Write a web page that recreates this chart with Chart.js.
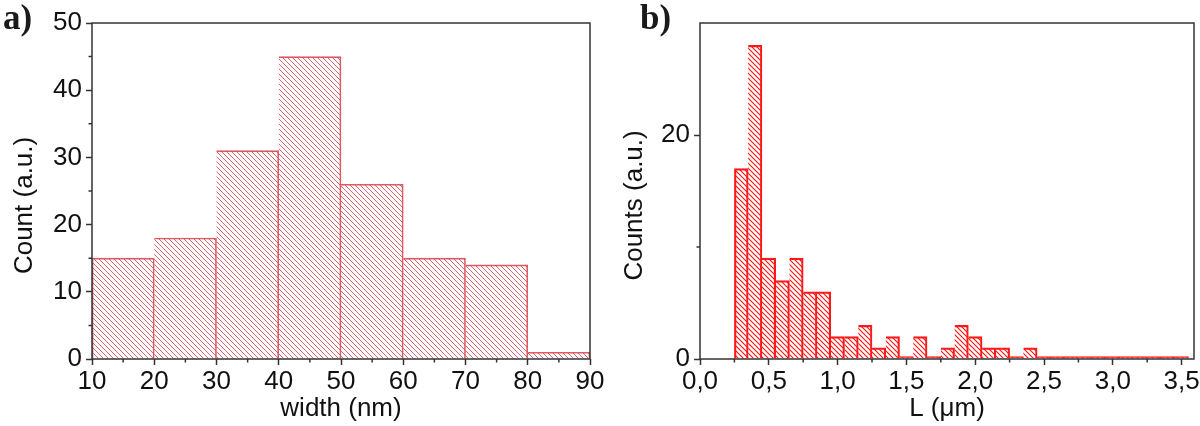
<!DOCTYPE html>
<html lang="en">
<head>
    <meta charset="UTF-8">
    <title>Width and length histograms</title>
    <script src="https://cdn.jsdelivr.net/npm/chart.js"></script>
    <style>
        body {
            margin: 0;
            background: #fff;
            width: 1200px;
            height: 426px;
            overflow: hidden;
            position: relative;
            font-family: 'Liberation Sans', Arial, sans-serif;
        }

        .panel {
            position: absolute;
            top: 0;
            height: 426px;
        }

        #panelA { left: 0; width: 610px; }
        #panelB { left: 600px; width: 600px; }

        .tag {
            position: absolute;
            top: 0;
            font-family: 'Liberation Serif', 'Times New Roman', serif;
            font-weight: bold;
            font-size: 35px;
            line-height: 1;
            color: #1a1a1a;
        }
    </style>
</head>
<body>
    <div id="panelA" class="panel"><canvas id="widthChart"></canvas></div>
    <div id="panelB" class="panel"><canvas id="lengthChart"></canvas></div>
    <div class="tag" style="left: 3px;">a)</div>
    <div class="tag" style="left: 640px;">b)</div>

    <script>
        // panel a) - nanowire width histogram (bin centres, 10 nm bins)
        const widthCenters = [15, 25, 35, 45, 55, 65, 75, 85];
        const widthCounts = [15, 18, 31, 45, 26, 15, 14, 1];
        const widthTicks = [10, 20, 30, 40, 50, 60, 70, 80, 90];
        const widthMinor = [15, 25, 35, 45, 55, 65, 75, 85];
        const countTicks = [0, 10, 20, 30, 40, 50];
        const countMinor = [5, 15, 25, 35, 45];

        // panel b) - length histogram (bin centres, 0.1 um bins)
        const lengthCenters = [0.3, 0.4, 0.5, 0.6, 0.7, 0.8, 0.9, 1.0, 1.1, 1.2, 1.3,
                               1.4, 1.5, 1.6, 1.7, 1.8, 1.9, 2.0, 2.1, 2.2, 2.3, 2.4,
                               2.5, 2.6, 2.7, 2.8, 2.9, 3.0, 3.1, 3.2, 3.3, 3.4, 3.5];
        const lengthCounts = [17, 28, 9, 7, 9, 6, 6, 2, 2, 3, 1,
                              2, 0, 2, 0, 1, 3, 2, 1, 1, 0, 1,
                              0, 0, 0, 0, 0, 0, 0, 0, 0, 0, 0];
        const lengthTicks = [0, 0.5, 1.0, 1.5, 2.0, 2.5, 3.0, 3.5];
        const lengthMinor = [0.25, 0.75, 1.25, 1.75, 2.25, 2.75, 3.25];
        const countsTicks = [0, 20];
        const countsMinor = [10];

        const AXIS_COLOR = '#333';
        const FONT = "'Liberation Sans', Arial, sans-serif";
        const FONT_SIZE = 26;
        // trailing no-break spaces push the centred y title a bit down, like the original
        const TITLE_SHIFT = '\u00a0\u00a0\u00a0\u00a0';

        // diagonal "\" hatch used as bar fill
        function makeHatch(color, gap, lw) {
            const c = document.createElement('canvas');
            c.width = gap;
            c.height = gap;
            const g = c.getContext('2d');
            g.strokeStyle = color;
            g.lineWidth = lw;
            g.beginPath();
            g.moveTo(-1, -1); g.lineTo(gap + 1, gap + 1);
            g.moveTo(-1, gap - 1); g.lineTo(1, gap + 1);
            g.moveTo(gap - 1, -1); g.lineTo(gap + 1, 1);
            g.stroke();
            return g.createPattern(c, 'repeat');
        }

        // box around the plot area + short minor ticks
        const framePlugin = {
            id: 'frame',
            afterDatasetsDraw(chart) {
                const { ctx, chartArea: a } = chart;
                ctx.save();
                ctx.strokeStyle = AXIS_COLOR;
                ctx.lineWidth = 1.5;
                ctx.strokeRect(a.left, a.top, a.right - a.left, a.bottom - a.top);
                ctx.restore();
            },
            afterDraw(chart, args, opts) {
                const { ctx, chartArea: a, scales } = chart;
                ctx.save();
                ctx.strokeStyle = AXIS_COLOR;
                ctx.lineWidth = 1.5;
                ctx.beginPath();
                (opts.x || []).forEach(v => {
                    const px = scales.x.getPixelForValue(v);
                    ctx.moveTo(px, a.bottom);
                    ctx.lineTo(px, a.bottom + 3.5);
                });
                (opts.y || []).forEach(v => {
                    const py = scales.y.getPixelForValue(v);
                    ctx.moveTo(a.left, py);
                    ctx.lineTo(a.left - 3.5, py);
                });
                ctx.stroke();
                ctx.restore();
            }
        };

        function axisGrid() {
            return {
                display: true,
                drawOnChartArea: false,
                drawTicks: true,
                tickLength: 6,
                tickWidth: 1.5,
                tickColor: AXIS_COLOR,
                offset: false
            };
        }

        function buildChart(canvasId, cfg) {
            const borderW = cfg.borderWidth;
            return new Chart(document.getElementById(canvasId), {
                type: 'bar',
                data: {
                    datasets: [{
                        data: cfg.centers.map((x, i) => ({ x: x, y: cfg.counts[i] })),
                        backgroundColor: cfg.hatch,
                        borderColor: cfg.lineColor,
                        // neighbouring bars share one edge
                        borderWidth: (c) => ({ top: borderW, right: borderW, bottom: 0, left: c.dataIndex === 0 ? borderW : 0 }),
                        borderSkipped: false,
                        barPercentage: 1,
                        categoryPercentage: 1,
                        minBarLength: cfg.minBar || 0
                    }]
                },
                options: {
                    responsive: true,
                    maintainAspectRatio: false,
                    animation: false,
                    layout: { padding: { top: 23, right: cfg.padRight, bottom: 0, left: 0 } },
                    plugins: {
                        legend: { display: false },
                        tooltip: { enabled: false },
                        frame: { x: cfg.xMinor, y: cfg.yMinor }
                    },
                    scales: {
                        x: {
                            type: 'linear',
                            offset: false,
                            min: cfg.xMin,
                            max: cfg.xMax,
                            afterBuildTicks: (s) => { s.ticks = cfg.xTicks.map(v => ({ value: v })); },
                            afterFit: (s) => {
                                s.height = 67;
                                // the end labels fit on the canvas, no extra room needed
                                s.paddingLeft = 0;
                                s.paddingRight = 0;
                            },
                            grid: axisGrid(),
                            border: { display: false },
                            ticks: {
                                padding: 1,
                                maxRotation: 0,
                                autoSkip: false,
                                color: '#111',
                                font: { family: FONT, size: FONT_SIZE },
                                callback: cfg.xFormat
                            },
                            title: {
                                display: true,
                                text: cfg.xTitle,
                                color: '#111',
                                font: { family: FONT, size: FONT_SIZE },
                                padding: { top: 0, bottom: 2 }
                            }
                        },
                        y: {
                            min: 0,
                            max: cfg.yMax,
                            afterBuildTicks: (s) => { s.ticks = cfg.yTicks.map(v => ({ value: v })); },
                            afterFit: (s) => { s.width = cfg.yWidth; },
                            grid: axisGrid(),
                            border: { display: false },
                            ticks: {
                                padding: 4,
                                color: '#111',
                                font: { family: FONT, size: FONT_SIZE }
                            },
                            title: {
                                display: true,
                                text: cfg.yTitle + TITLE_SHIFT,
                                color: '#111',
                                font: { family: FONT, size: FONT_SIZE },
                                padding: { top: cfg.yTitlePad, bottom: 0 }
                            }
                        }
                    }
                },
                plugins: [framePlugin]
            });
        }

        buildChart('widthChart', {
            centers: widthCenters,
            counts: widthCounts,
            hatch: makeHatch('rgba(214, 62, 74, 0.9)', 5, 0.9),
            lineColor: '#e05a62',
            borderWidth: 1,
            xMin: 10, xMax: 90,
            xTicks: widthTicks, xMinor: widthMinor,
            yMax: 50,
            yTicks: countTicks, yMinor: countMinor,
            xTitle: 'width (nm)',
            yTitle: 'Count (a.u.)',
            yTitlePad: 9,
            yWidth: 92,
            padRight: 20,
            xFormat: (v) => String(v)
        });

        buildChart('lengthChart', {
            centers: lengthCenters,
            counts: lengthCounts,
            hatch: makeHatch('#ff1010', 5, 1.1),
            lineColor: '#ff1a1a',
            borderWidth: 1.5,
            minBar: 2.5,
            xMin: 0, xMax: 3.59,
            xTicks: lengthTicks, xMinor: lengthMinor,
            yMax: 30,
            yTicks: countsTicks, yMinor: countsMinor,
            xTitle: 'L (\u03bcm)',
            yTitle: 'Counts (a.u.)',
            yTitlePad: 19,
            yWidth: 100,
            padRight: 6,
            xFormat: (v) => Number(v).toFixed(1).replace('.', ',')
        });
    </script>
</body>
</html>
